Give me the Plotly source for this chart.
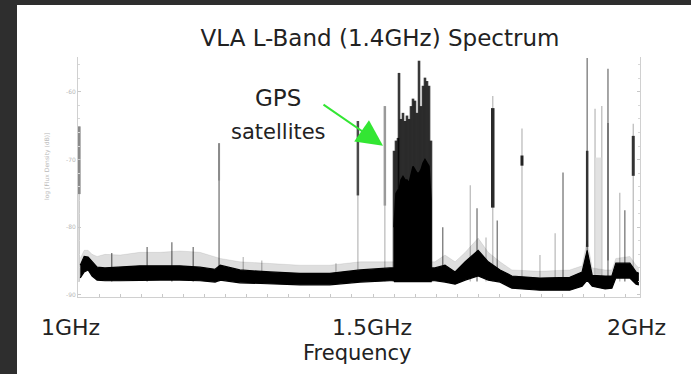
import plotly.graph_objects as go

# ---------------- data (frequency in GHz, level in dB) ----------------
BASE_FREQ = [1.004, 1.011, 1.018, 1.025, 1.034, 1.048, 1.075, 1.110, 1.146, 1.181,
             1.217, 1.244, 1.253, 1.288, 1.342, 1.395, 1.448, 1.502, 1.555, 1.635,
             1.653, 1.671, 1.689, 1.712, 1.730, 1.751, 1.772, 1.822, 1.875, 1.897,
             1.906, 1.915, 1.938, 1.950, 1.957, 1.982, 1.993, 1.998]
BASE_LOW = [-87.5, -86.6, -86.3, -87.2, -87.8, -87.9, -87.9, -87.8, -87.8, -87.8,
            -87.9, -88.1, -87.8, -88.2, -88.4, -88.5, -88.5, -88.1, -87.9, -87.9,
            -88.1, -88.4, -87.8, -87.2, -87.8, -88.1, -89.0, -89.3, -89.3, -88.7,
            -87.8, -88.7, -89.1, -89.0, -87.5, -87.5, -88.4, -88.5]
BASE_HIGH = [-85.6, -84.3, -84.4, -85.1, -85.9, -86.0, -85.9, -85.7, -85.7, -85.7,
             -85.9, -86.2, -85.6, -86.3, -86.6, -86.8, -86.8, -86.3, -86.0, -86.0,
             -85.6, -86.6, -85.1, -83.4, -85.1, -86.3, -87.2, -87.5, -87.4, -86.6,
             -83.4, -87.1, -87.2, -87.2, -85.3, -85.3, -86.6, -86.8]
NOISE_TOP = [-84.6, -83.4, -83.4, -84.0, -84.3, -84.0, -84.1, -83.7, -83.7, -83.5,
             -83.7, -84.3, -84.6, -85.1, -85.4, -85.6, -85.6, -85.1, -85.1, -85.1,
             -84.1, -85.1, -83.7, -81.6, -83.7, -85.1, -86.3, -86.5, -86.3, -85.7,
             -81.9, -86.0, -86.3, -86.3, -84.6, -84.3, -85.6, -86.0]

# narrow RFI lines
SPIKE_FREQ = [1.002, 1.060, 1.123, 1.167, 1.205, 1.251, 1.294, 1.327, 1.459, 1.498,
              1.546, 1.649, 1.698, 1.710, 1.726, 1.738, 1.746, 1.790, 1.822, 1.849,
              1.863, 1.906, 1.920, 1.932, 1.943, 1.964, 1.973, 1.988]
SPIKE_TOP = [-65.1, -83.8, -82.9, -82.2, -82.9, -67.6, -84.4, -84.9, -85.3, -64.3,
             -62.1, -80.0, -73.8, -77.2, -81.5, -60.6, -79.0, -65.4, -84.1, -80.9,
             -71.9, -55.0, -62.5, -62.1, -56.6, -74.9, -77.5, -64.7]
SPIKE_DARK = [0, 1, 1, 1, 1, 1, 0, 0, 0, 0,
              0, 1, 0, 1, 0, 0, 1, 0, 0, 0,
              1, 1, 0, 0, 1, 0, 1, 0]

# stronger sections of some lines
SEG_FREQ = [1.002, 1.251, 1.498, 1.546, 1.738, 1.790, 1.906, 1.943, 1.988, 1.926]
SEG_TOP = [-65.1, -67.6, -64.3, -62.1, -62.4, -69.4, -68.7, -64.6, -66.5, -69.7]
SEG_BOTTOM = [-75.1, -73.1, -75.3, -76.8, -77.1, -70.9, -82.9, -84.9, -72.4, -87.0]
SEG_COLOR = ["#8a8a8a", "#8a8a8a", "#4a4a4a", "#9a9a9a", "#2a2a2a", "#222222",
             "#333333", "#777777", "#333333", "#e2e2e2"]
SEG_WIDTH = [3, 2, 2.5, 2.5, 3.5, 3, 2.5, 2, 3, 6]

# GPS satellite band
GPS_FREQ = [1.5623, 1.5658, 1.5694, 1.5712, 1.5747, 1.5783, 1.5819, 1.5854, 1.5890, 1.5925,
            1.5961, 1.5996, 1.6032, 1.6068, 1.6103, 1.6139, 1.6174, 1.6210, 1.6246, 1.6281]
GPS_PEAK = [-68.7, -67.2, -66.8, -57.2, -64.0, -63.1, -64.3, -63.5, -64.0, -62.1,
            -61.0, -61.3, -63.1, -55.4, -62.1, -59.1, -57.9, -58.4, -59.1, -67.2]
GPS_CORE = [-80.0, -75.0, -74.5, -74.5, -73.0, -72.5, -73.0, -73.0, -73.5, -72.0,
            -71.0, -71.5, -72.0, -72.0, -71.5, -70.5, -70.0, -70.5, -71.0, -76.0]

Y_TICKS = [-90, -80, -70, -60]
Y_TICK_TEXT = ["-90", "-80", "-70", "-60"]
X_LABEL_FREQ = [1.0, 1.5, 2.0]
X_LABEL_TEXT = ["1GHz", "1.5GHz", "2GHz"]

FLOOR = -88.0

fig = go.Figure()


def vlines(freqs, tops, bottoms):
    xs, ys = [], []
    for f, t, b in zip(freqs, tops, bottoms):
        xs += [f, f, None]
        ys += [b, t, None]
    return xs, ys


# light and mid spikes
for dark, col, w in [(0, "#bdbdbd", 1.3), (1, "#808080", 1.4)]:
    fr = [f for f, d in zip(SPIKE_FREQ, SPIKE_DARK) if d == dark]
    tp = [t for t, d in zip(SPIKE_TOP, SPIKE_DARK) if d == dark]
    xs, ys = vlines(fr, tp, [FLOOR] * len(fr))
    fig.add_trace(go.Scatter(x=xs, y=ys, mode="lines", line=dict(color=col, width=w),
                             hoverinfo="skip", showlegend=False))

# segments
for f, t, b, c, w in zip(SEG_FREQ, SEG_TOP, SEG_BOTTOM, SEG_COLOR, SEG_WIDTH):
    fig.add_trace(go.Scatter(x=[f, f], y=[b, t], mode="lines", line=dict(color=c, width=w),
                             hoverinfo="skip", showlegend=False))

# baseline band
fig.add_trace(go.Scatter(x=BASE_FREQ, y=BASE_LOW, mode="lines",
                         line=dict(color="black", width=1.2), hoverinfo="skip", showlegend=False))
fig.add_trace(go.Scatter(x=BASE_FREQ, y=BASE_HIGH, mode="lines", fill="tonexty",
                         fillcolor="black", line=dict(color="black", width=1.2),
                         hoverinfo="skip", showlegend=False))
fig.add_trace(go.Scatter(x=BASE_FREQ, y=NOISE_TOP, mode="lines", fill="tonexty",
                         fillcolor="rgba(0,0,0,0.13)", line=dict(color="rgba(0,0,0,0.08)", width=1),
                         hoverinfo="skip", showlegend=False))

# GPS band: peaks then solid core
xs, ys = vlines(GPS_FREQ, GPS_PEAK, [FLOOR] * len(GPS_FREQ))
fig.add_trace(go.Scatter(x=xs, y=ys, mode="lines", line=dict(color="rgba(0,0,0,0.78)", width=2.6),
                         hoverinfo="skip", showlegend=False))
fig.add_trace(go.Scatter(x=GPS_FREQ + GPS_FREQ[::-1], y=GPS_CORE + [FLOOR] * len(GPS_FREQ),
                         mode="lines", fill="toself", fillcolor="black",
                         line=dict(color="black", width=1.5),
                         hoverinfo="skip", showlegend=False))

W, H = 691, 374
L, R, T, B = 78, 51, 57, 77
pw, ph = W - L - R, H - T - B


def px(x):
    return (x - L) / pw


def py(y):
    return (H - B - y) / ph


fig.update_layout(
    width=W, height=H,
    margin=dict(l=L, r=R, t=T, b=B),
    paper_bgcolor="white", plot_bgcolor="white",
    font=dict(family="DejaVu Sans", color="#222222"),
    title=dict(text="VLA L-Band (1.4GHz) Spectrum", x=380 / W, xref="container", xanchor="center",
               y=1 - 38 / H, yref="container", yanchor="middle",
               font=dict(size=23, color="#222222", family="DejaVu Sans")),
    xaxis=dict(range=[1.0, 2.0], showgrid=False, zeroline=False, showline=True,
               linecolor="#d0d0d0", linewidth=1, ticks="inside", ticklen=3, tickcolor="#c8c8c8",
               tick0=1.0, dtick=0.0375, showticklabels=False),
    yaxis=dict(range=[-90.3, -54.85], showgrid=False, zeroline=False, showline=True,
               linecolor="#d0d0d0", linewidth=1, mirror="ticks", ticks="inside", ticklen=3,
               tickcolor="#c8c8c8", tickvals=Y_TICKS, ticktext=Y_TICK_TEXT,
               tickfont=dict(size=6, color="#b8b8b8"),
               minor=dict(ticks="inside", ticklen=2, tickcolor="#d8d8d8", dtick=2)),
    showlegend=False,
)

# dark screen edges
fig.add_shape(type="rect", xref="paper", yref="paper", x0=px(0), x1=px(17), y0=py(H), y1=py(0),
              fillcolor="#2e2e2e", line=dict(width=0), layer="above")
fig.add_shape(type="rect", xref="paper", yref="paper", x0=px(0), x1=px(W), y0=py(5), y1=py(0),
              fillcolor="#2e2e2e", line=dict(width=0), layer="above")

# frequency labels
shifts = [-8, 13, -4]
for f, t, s in zip(X_LABEL_FREQ, X_LABEL_TEXT, shifts):
    fig.add_annotation(x=f, y=py(327), xref="x", yref="paper", text=t, showarrow=False,
                       xshift=s, xanchor="center", yanchor="middle",
                       font=dict(size=22, color="#222222", family="DejaVu Sans"))
fig.add_annotation(x=1.5, y=py(353), xref="x", yref="paper", text="Frequency", showarrow=False,
                   xshift=-2, xanchor="center", yanchor="middle",
                   font=dict(size=21, color="#222222", family="DejaVu Sans"))

# y axis title (faint)
fig.add_annotation(x=px(47), y=py(167), xref="paper", yref="paper", text="log [Flux Density (dB)]",
                   showarrow=False, textangle=-90, xanchor="center", yanchor="middle",
                   font=dict(size=6, color="#b8b8b8"))

# GPS label and arrow
fig.add_annotation(x=px(278), y=py(98), xref="paper", yref="paper", text="GPS", showarrow=False,
                   xanchor="center", yanchor="middle",
                   font=dict(size=23, color="#222222", family="DejaVu Sans"))
fig.add_annotation(x=px(278), y=py(132), xref="paper", yref="paper", text="satellites", showarrow=False,
                   xanchor="center", yanchor="middle",
                   font=dict(size=21, color="#222222", family="DejaVu Sans"))
fig.add_annotation(x=1 + (383 - L) / pw, y=-90 + (295 - 145) / 6.8, xref="x", yref="y", text="",
                   showarrow=True, ax=-61, ay=-42, axref="pixel", ayref="pixel",
                   arrowhead=2, arrowsize=2.6, arrowwidth=2, arrowcolor="#33e633")

fig.write_html("out.html", config={"displayModeBar": False},
               post_script="document.body.style.margin='0';document.body.style.overflow='hidden';")
